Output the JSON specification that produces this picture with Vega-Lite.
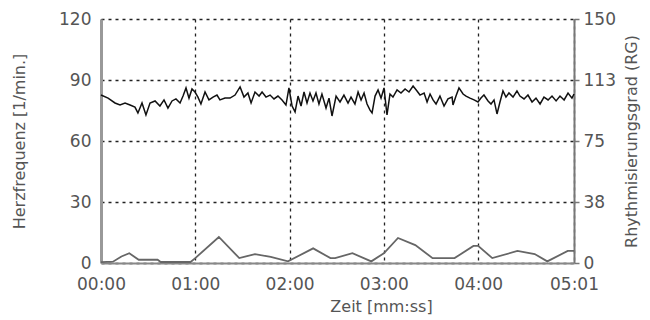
{
  "$schema": "https://vega.github.io/schema/vega-lite/v6.json",
  "width": 473,
  "height": 244,
  "autosize": "none",
  "padding": {"left": 101, "top": 19, "right": 76, "bottom": 57},
  "background": "white",
  "config": {
    "view": {"stroke": null},
    "font": "DejaVu Sans",
    "axis": {
      "labelFont": "DejaVu Sans",
      "titleFont": "DejaVu Sans",
      "labelFontSize": 17,
      "titleFontSize": 16,
      "labelColor": "#555",
      "titleColor": "#555",
      "titleFontWeight": "normal",
      "gridColor": "#222",
      "gridDash": [3, 4],
      "gridWidth": 1.3,
      "gridOpacity": 1
    }
  },
  "datasets": {
    "hr": [
      {"t": 0, "hr": 82.6}, {"t": 4.5, "hr": 81.1}, {"t": 8.9, "hr": 78.7}, {"t": 12.1, "hr": 77.7},
      {"t": 15.3, "hr": 78.7}, {"t": 18.5, "hr": 77.7}, {"t": 21.6, "hr": 76.7}, {"t": 23.5, "hr": 73.8},
      {"t": 26.1, "hr": 78.7}, {"t": 28.6, "hr": 72.8}, {"t": 31.2, "hr": 78.7}, {"t": 34.4, "hr": 79.7},
      {"t": 37.5, "hr": 77.2}, {"t": 40.1, "hr": 80.2}, {"t": 42.6, "hr": 76.2}, {"t": 45.2, "hr": 79.7},
      {"t": 47.7, "hr": 80.7}, {"t": 50.3, "hr": 78.7}, {"t": 52.2, "hr": 82.1}, {"t": 54.1, "hr": 86.1},
      {"t": 56.0, "hr": 81.1}, {"t": 57.9, "hr": 85.6}, {"t": 59.8, "hr": 84.1}, {"t": 61.7, "hr": 81.6},
      {"t": 63.6, "hr": 78.2}, {"t": 66.2, "hr": 84.1}, {"t": 68.7, "hr": 80.2}, {"t": 71.3, "hr": 81.6},
      {"t": 73.8, "hr": 82.6}, {"t": 75.7, "hr": 80.2}, {"t": 78.9, "hr": 81.1}, {"t": 82.1, "hr": 81.1},
      {"t": 85.3, "hr": 82.6}, {"t": 88.5, "hr": 86.6}, {"t": 91.0, "hr": 81.6}, {"t": 93.5, "hr": 83.6},
      {"t": 95.5, "hr": 78.7}, {"t": 98.0, "hr": 84.1}, {"t": 100.6, "hr": 82.1}, {"t": 102.5, "hr": 84.1},
      {"t": 105.0, "hr": 81.6}, {"t": 107.6, "hr": 82.6}, {"t": 110.1, "hr": 80.7}, {"t": 112.6, "hr": 82.1},
      {"t": 115.2, "hr": 80.2}, {"t": 117.7, "hr": 77.7}, {"t": 119.6, "hr": 86.1}, {"t": 121.6, "hr": 77.2},
      {"t": 123.5, "hr": 74.3}, {"t": 125.4, "hr": 82.1}, {"t": 127.3, "hr": 77.2}, {"t": 129.2, "hr": 84.1},
      {"t": 131.1, "hr": 78.7}, {"t": 133.0, "hr": 83.6}, {"t": 134.9, "hr": 79.7}, {"t": 136.8, "hr": 83.6},
      {"t": 138.7, "hr": 78.2}, {"t": 140.6, "hr": 83.1}, {"t": 143.2, "hr": 76.2}, {"t": 145.1, "hr": 81.1},
      {"t": 147.0, "hr": 72.3}, {"t": 149.6, "hr": 82.1}, {"t": 152.1, "hr": 79.2}, {"t": 154.6, "hr": 82.6},
      {"t": 157.2, "hr": 78.7}, {"t": 159.1, "hr": 81.6}, {"t": 161.6, "hr": 78.2}, {"t": 163.6, "hr": 84.1},
      {"t": 165.5, "hr": 80.2}, {"t": 167.4, "hr": 83.6}, {"t": 169.3, "hr": 78.2}, {"t": 171.2, "hr": 75.2},
      {"t": 172.5, "hr": 73.8}, {"t": 174.4, "hr": 82.1}, {"t": 176.3, "hr": 85.1}, {"t": 178.2, "hr": 81.1},
      {"t": 180.1, "hr": 86.1}, {"t": 182.0, "hr": 72.8}, {"t": 183.9, "hr": 83.1}, {"t": 185.8, "hr": 81.6},
      {"t": 188.4, "hr": 85.1}, {"t": 190.9, "hr": 83.6}, {"t": 193.5, "hr": 85.6}, {"t": 196.0, "hr": 84.1},
      {"t": 198.6, "hr": 87.0}, {"t": 201.1, "hr": 84.6}, {"t": 203.0, "hr": 82.6}, {"t": 205.6, "hr": 83.6},
      {"t": 207.5, "hr": 79.2}, {"t": 209.4, "hr": 83.1}, {"t": 211.3, "hr": 80.2}, {"t": 213.2, "hr": 78.2},
      {"t": 215.7, "hr": 82.1}, {"t": 218.3, "hr": 77.2}, {"t": 220.8, "hr": 80.7}, {"t": 223.4, "hr": 81.6},
      {"t": 224.0, "hr": 77.7}, {"t": 225.9, "hr": 82.1}, {"t": 227.8, "hr": 86.1}, {"t": 230.4, "hr": 83.1},
      {"t": 232.3, "hr": 82.1}, {"t": 234.8, "hr": 81.1}, {"t": 237.4, "hr": 80.2}, {"t": 239.9, "hr": 79.2},
      {"t": 241.8, "hr": 81.1}, {"t": 243.7, "hr": 82.6}, {"t": 246.3, "hr": 79.7}, {"t": 248.2, "hr": 78.2},
      {"t": 250.1, "hr": 80.2}, {"t": 252.0, "hr": 73.3}, {"t": 253.9, "hr": 79.2}, {"t": 255.8, "hr": 84.6},
      {"t": 257.7, "hr": 81.6}, {"t": 259.6, "hr": 83.6}, {"t": 262.2, "hr": 81.6}, {"t": 264.7, "hr": 84.6},
      {"t": 266.6, "hr": 82.1}, {"t": 269.2, "hr": 80.7}, {"t": 271.7, "hr": 82.6}, {"t": 274.3, "hr": 79.2},
      {"t": 276.8, "hr": 81.1}, {"t": 279.4, "hr": 78.2}, {"t": 281.9, "hr": 81.6}, {"t": 284.5, "hr": 80.2},
      {"t": 287.0, "hr": 82.1}, {"t": 289.6, "hr": 79.7}, {"t": 292.1, "hr": 82.1}, {"t": 294.7, "hr": 80.2},
      {"t": 297.2, "hr": 83.6}, {"t": 299.7, "hr": 81.1}, {"t": 301, "hr": 83.1}
    ],
    "rg": [
      {"t": 0, "rg": 0.5}, {"t": 7.6, "rg": 0.8}, {"t": 13, "rg": 4}, {"t": 18, "rg": 6}, {"t": 24, "rg": 2},
      {"t": 36, "rg": 2}, {"t": 38, "rg": 0.6}, {"t": 57, "rg": 0.6}, {"t": 60, "rg": 3},
      {"t": 75, "rg": 16}, {"t": 88, "rg": 3}, {"t": 98, "rg": 5.5}, {"t": 108, "rg": 3.7},
      {"t": 119, "rg": 1}, {"t": 135, "rg": 9}, {"t": 146, "rg": 3}, {"t": 149, "rg": 3},
      {"t": 160, "rg": 6}, {"t": 172, "rg": 1}, {"t": 180, "rg": 6}, {"t": 189, "rg": 15.4},
      {"t": 200, "rg": 11}, {"t": 211, "rg": 3}, {"t": 225, "rg": 3}, {"t": 237, "rg": 10.5},
      {"t": 240, "rg": 10.5}, {"t": 249, "rg": 3}, {"t": 265, "rg": 7.4}, {"t": 276, "rg": 5.5},
      {"t": 284, "rg": 1}, {"t": 297, "rg": 7.4}, {"t": 301, "rg": 7.4}
    ]
  },
  "layer": [
    {
      "data": {"name": "hr"},
      "mark": {"type": "line", "color": "#111", "strokeWidth": 1.5},
      "encoding": {
        "x": {
          "field": "t", "type": "quantitative",
          "scale": {"domain": [0, 301], "nice": false, "zero": false},
          "axis": {
            "values": [0, 60, 120, 180, 240, 301],
            "labelExpr": "utcFormat(datum.value * 1000, '%M:%S')",
            "title": "Zeit [mm:ss]",
            "ticks": false,
            "labelPadding": 13,
            "domainColor": "#888",
            "domainWidth": 2,
            "titleX": 280,
            "titleY": 48,
            "titleBaseline": "alphabetic",
            "labelFlush": false
          }
        },
        "y": {
          "field": "hr", "type": "quantitative",
          "scale": {"domain": [0, 120], "nice": false},
          "axis": {
            "values": [0, 30, 60, 90, 120],
            "title": "Herzfrequenz [1/min.]",
            "ticks": false,
            "labelPadding": 10,
            "domainColor": "#999",
            "domainWidth": 3,
            "titlePadding": 31
          }
        }
      }
    },
    {
      "data": {"name": "rg"},
      "mark": {"type": "line", "color": "#666", "strokeWidth": 1.8},
      "encoding": {
        "x": {"field": "t", "type": "quantitative"},
        "y": {
          "field": "rg", "type": "quantitative",
          "scale": {"domain": [0, 150], "nice": false},
          "axis": {
            "orient": "right",
            "values": [0, 37.5, 75, 112.5, 150],
            "labelExpr": "format(datum.value, '.0f')",
            "title": "Rhythmisierungsgrad (RG)",
            "titleAngle": 270,
            "grid": false,
            "tickSize": 5,
            "tickColor": "#777",
            "tickWidth": 1.5,
            "labelPadding": 4,
            "domainColor": "#777",
            "domainWidth": 2,
            "titlePadding": 24
          }
        }
      }
    }
  ],
  "resolve": {"scale": {"y": "independent"}}
}
